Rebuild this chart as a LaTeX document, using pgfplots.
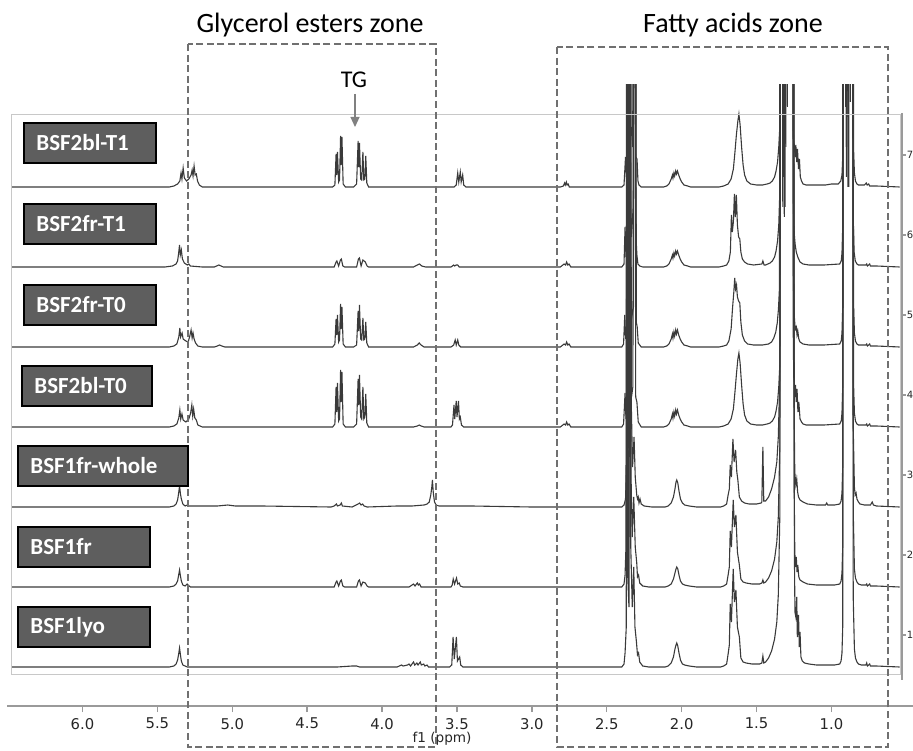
\documentclass[border=0pt]{standalone}
\usepackage{pgfplots}
\pgfplotsset{compat=1.18}
\usepackage{fontspec}
\setmainfont{Carlito}
\newfontfamily\tickfont{DejaVu Sans}
\usetikzlibrary{arrows.meta}

\definecolor{spec}{HTML}{3A3A3A}
\definecolor{zone}{HTML}{707070}
\definecolor{boxfill}{HTML}{5E5E5E}
\definecolor{framegray}{HTML}{C8C8C8}
\definecolor{axisgray}{HTML}{9A9A9A}

\begin{document}
\begin{tikzpicture}
\begin{axis}[
  x=74.9pt, y=0.5pt, x dir=reverse,
  xmin=0.4559, xmax=6.504, ymin=44, ymax=665,
  clip=true,
  axis x line*=bottom, axis y line=none,
  axis line style={axisgray, line width=1.2pt, -},
  xtick={1,1.5,2,2.5,3,3.5,4,4.5,5,5.5,6},
  tick align=outside, major tick length=3pt,
  tick style={axisgray, line width=0.7pt},
  xticklabel style={font=\tickfont\fontsize{7.4}{8}\selectfont, text=black!85, yshift=0.5pt},
  /pgf/number format/.cd, fixed, fixed zerofill, precision=1, assume math mode=true,
]
% heights above each baseline; each spectrum is lifted to its row with yshift (80 units = 40pt)
% very tall lines (900) run off the top of the display and are cut there

% BSF1lyo
\addplot[spec, line width=0.55pt, yshift=41.5pt] coordinates {
(6.47,0) (5.42,0) (5.39,1) (5.375,3) (5.365,7) (5.358,13) (5.352,19) (5.346,12) (5.34,6) (5.33,2) (5.315,1) (5.30,0)
(4.30,0) (4.20,1) (4.17,1) (4.15,0) (3.90,0) (3.87,2) (3.86,1) (3.83,2) (3.82,3) (3.81,1) (3.79,5) (3.782,2) (3.768,4) (3.76,2)
(3.745,5) (3.738,2) (3.722,3) (3.715,1) (3.70,2) (3.69,0)
(3.55,0) (3.535,2) (3.526,30) (3.518,8) (3.504,30) (3.497,6) (3.482,10) (3.475,2) (3.46,0)
(2.40,0) (2.385,3) (2.378,14) (2.37,40) (2.365,900) (2.36,90) (2.352,60) (2.346,900) (2.34,120) (2.33,60) (2.32,100)
(2.312,40) (2.302,25) (2.295,12) (2.288,14) (2.28,5) (2.26,1) (2.22,0)
(2.11,0) (2.09,1) (2.07,4) (2.055,10) (2.045,18) (2.038,22) (2.033,24) (2.026,21) (2.018,14) (2.008,7) (1.995,3) (1.98,2) (1.95,1) (1.90,0)
(1.74,0) (1.72,1) (1.70,3) (1.69,13) (1.682,22) (1.676,63) (1.668,45) (1.656,98) (1.648,65) (1.638,77) (1.628,40) (1.615,30)
(1.605,9) (1.59,5) (1.57,4) (1.53,3) (1.48,3) (1.465,4) (1.458,11) (1.452,4) (1.44,5) (1.42,9) (1.40,16) (1.38,28) (1.365,45)
(1.355,72) (1.345,150) (1.338,900) (1.32,900) (1.315,450) (1.31,900) (1.27,900) (1.252,900) (1.248,120) (1.244,55)
(1.238,50) (1.232,70) (1.228,30) (1.22,52) (1.215,20) (1.21,35) (1.204,10) (1.195,6) (1.18,4) (1.15,3) (1.10,2)
(0.98,2) (0.945,3) (0.936,6) (0.93,14) (0.925,40) (0.921,900) (0.895,900) (0.89,480) (0.885,900) (0.86,900) (0.855,70)
(0.847,18) (0.84,9) (0.83,5) (0.82,3) (0.80,2) (0.77,2) (0.765,4) (0.76,1) (0.745,3) (0.74,1) (0.70,1) (0.545,0)
};

% BSF1fr
\addplot[spec, line width=0.55pt, yshift=81.5pt] coordinates {
(6.47,0) (5.42,0) (5.39,1) (5.375,3) (5.365,6) (5.358,12) (5.352,17) (5.346,11) (5.34,6) (5.33,2) (5.315,1) (5.302,3) (5.295,2) (5.28,0)
(4.32,0) (4.307,5) (4.302,6) (4.29,1) (4.278,6) (4.272,7) (4.262,1) (4.25,0)
(4.17,0) (4.158,6) (4.151,7) (4.14,1) (4.128,5) (4.112,4) (4.10,1) (4.09,0)
(3.82,0) (3.80,2) (3.79,3) (3.78,1) (3.765,4) (3.758,2) (3.75,3) (3.74,0)
(3.54,0) (3.532,2) (3.525,8) (3.516,3) (3.503,9) (3.495,3) (3.485,4) (3.478,1) (3.46,0)
(2.40,0) (2.385,3) (2.378,12) (2.372,40) (2.366,900) (2.36,80) (2.352,50) (2.344,900) (2.338,110) (2.33,50) (2.32,90)
(2.31,40) (2.30,24) (2.295,10) (2.288,12) (2.28,4) (2.26,1) (2.22,0)
(2.11,0) (2.09,1) (2.07,3) (2.055,8) (2.045,14) (2.038,18) (2.033,20) (2.026,18) (2.018,12) (2.008,6) (1.995,3) (1.98,2) (1.95,1) (1.90,0)
(1.74,0) (1.72,1) (1.70,3) (1.69,12) (1.682,20) (1.676,56) (1.668,40) (1.656,87) (1.648,60) (1.638,72) (1.628,35) (1.615,22)
(1.605,8) (1.59,5) (1.57,4) (1.53,3) (1.48,3) (1.465,4) (1.458,7) (1.452,4) (1.44,5) (1.42,9) (1.40,16) (1.38,28) (1.365,45)
(1.355,70) (1.345,140) (1.338,900) (1.315,900) (1.31,380) (1.305,900) (1.27,900) (1.253,900) (1.249,100) (1.245,35)
(1.24,20) (1.235,30) (1.23,15) (1.225,22) (1.218,10) (1.21,7) (1.19,5) (1.16,3) (1.10,2)
(0.98,2) (0.945,3) (0.936,6) (0.93,14) (0.925,40) (0.922,900) (0.89,900) (0.885,400) (0.88,900) (0.858,900) (0.854,70)
(0.847,18) (0.84,9) (0.83,5) (0.82,3) (0.80,2) (0.77,2) (0.765,3) (0.76,1) (0.745,3) (0.74,1) (0.70,1) (0.545,0)
};

% BSF1fr-whole
\addplot[spec, line width=0.55pt, yshift=121.5pt] coordinates {
(6.47,0) (5.42,0) (5.39,1) (5.375,3) (5.365,7) (5.358,14) (5.352,21) (5.346,13) (5.34,8) (5.33,3) (5.315,1) (5.30,2) (5.29,1)
(5.20,1) (5.10,1) (5.03,2) (4.98,1) (4.80,1) (4.34,0)
(4.32,1) (4.305,3) (4.298,1) (4.28,2) (4.272,4) (4.265,1) (4.20,0) (4.16,3) (4.15,4) (4.14,2) (4.13,3) (4.12,1) (4.10,0)
(3.90,1) (3.80,1) (3.72,2) (3.70,3) (3.685,5) (3.675,12) (3.668,20) (3.664,27) (3.658,14) (3.65,5) (3.64,2) (3.62,1) (3.55,1) (3.40,1) (3.00,0)
(2.40,0) (2.385,2) (2.375,8) (2.368,40) (2.363,900) (2.357,70) (2.35,50) (2.342,900) (2.336,100) (2.328,40) (2.318,70)
(2.31,30) (2.30,12) (2.295,8) (2.29,10) (2.285,4) (2.278,8) (2.27,3) (2.25,1) (2.20,0)
(2.11,0) (2.09,1) (2.07,4) (2.055,10) (2.045,18) (2.038,25) (2.033,27) (2.026,24) (2.018,16) (2.008,8) (1.995,4) (1.98,2) (1.95,1) (1.90,0)
(1.74,0) (1.72,1) (1.70,3) (1.69,12) (1.682,18) (1.676,42) (1.668,30) (1.658,68) (1.65,45) (1.64,57) (1.632,35) (1.625,27)
(1.615,10) (1.60,6) (1.58,4) (1.55,3) (1.50,3) (1.47,4) (1.465,5) (1.458,60) (1.452,6) (1.44,6) (1.42,10) (1.40,18) (1.38,30)
(1.365,45) (1.355,70) (1.345,130) (1.338,900) (1.33,900) (1.325,300) (1.32,900) (1.27,900) (1.254,900) (1.25,100)
(1.245,35) (1.238,22) (1.232,28) (1.226,15) (1.22,10) (1.21,7) (1.19,5) (1.16,3) (1.10,2) (1.04,2) (1.032,4) (1.025,2)
(0.98,2) (0.945,3) (0.936,6) (0.93,14) (0.925,40) (0.921,900) (0.905,900) (0.90,330) (0.895,900) (0.86,900) (0.855,80)
(0.847,20) (0.842,12) (0.836,14) (0.83,8) (0.82,5) (0.81,3) (0.78,2) (0.74,2) (0.728,5) (0.72,2) (0.70,1) (0.545,0)
};

% BSF2bl-T0
\addplot[spec, line width=0.55pt, yshift=161.5pt] coordinates {
(6.47,0) (5.42,0) (5.39,1) (5.37,3) (5.357,9) (5.35,17) (5.344,8) (5.336,13) (5.328,7) (5.31,5) (5.29,8) (5.278,14) (5.27,22)
(5.264,11) (5.258,18) (5.25,9) (5.24,7) (5.23,2) (5.20,0)
(4.33,0) (4.315,3) (4.307,40) (4.303,15) (4.298,44) (4.29,6) (4.284,8) (4.277,57) (4.273,25) (4.268,55) (4.26,3) (4.245,0)
(4.19,0) (4.17,3) (4.16,48) (4.156,22) (4.151,52) (4.143,10) (4.136,8) (4.128,40) (4.122,8) (4.115,10) (4.109,33) (4.102,4) (4.09,0)
(3.79,0) (3.765,1) (3.752,2) (3.74,1) (3.72,0)
(3.54,0) (3.53,2) (3.52,22) (3.515,8) (3.505,26) (3.5,10) (3.49,26) (3.484,8) (3.478,10) (3.47,2) (3.455,0)
(2.81,0) (2.785,3) (2.775,2) (2.768,5) (2.76,2) (2.752,3) (2.74,0)
(2.40,0) (2.388,3) (2.378,34) (2.372,8) (2.362,30) (2.358,900) (2.353,40) (2.343,70) (2.335,30) (2.326,40) (2.313,900)
(2.307,30) (2.299,25) (2.29,5) (2.27,0)
(2.12,0) (2.10,1) (2.085,3) (2.07,8) (2.062,13) (2.058,9) (2.052,15) (2.047,11) (2.04,17) (2.035,13) (2.028,17) (2.02,12)
(2.01,8) (2.00,5) (1.985,2) (1.96,1) (1.94,0)
(1.75,0) (1.72,1) (1.69,3) (1.67,8) (1.655,18) (1.645,34) (1.635,52) (1.625,68) (1.618,74) (1.61,64) (1.60,42) (1.59,23)
(1.58,12) (1.565,6) (1.54,3) (1.50,2) (1.46,2)
(1.43,3) (1.41,4) (1.395,6) (1.38,10) (1.37,16) (1.36,25) (1.352,40) (1.345,62) (1.341,900) (1.325,900) (1.32,250) (1.315,900)
(1.27,900) (1.258,900) (1.255,90) (1.252,50) (1.248,45) (1.245,30) (1.24,42) (1.235,25) (1.23,38) (1.224,15) (1.218,25) (1.21,8)
(1.20,5) (1.19,3) (1.17,2) (1.05,2)
(0.945,3) (0.935,6) (0.93,14) (0.925,40) (0.922,900) (0.905,900) (0.90,280) (0.895,900) (0.858,900) (0.853,45) (0.847,14)
(0.84,6) (0.83,3) (0.82,2) (0.77,2) (0.765,3) (0.76,1) (0.745,3) (0.74,1) (0.70,1) (0.545,0)
};

% BSF2fr-T0
\addplot[spec, line width=0.55pt, yshift=201.5pt] coordinates {
(6.47,0) (5.42,0) (5.39,1) (5.37,3) (5.357,10) (5.35,19) (5.345,10) (5.335,14) (5.328,8) (5.31,6) (5.295,5) (5.285,10)
(5.275,17) (5.268,9) (5.262,14) (5.255,8) (5.245,4) (5.23,1) (5.20,0) (5.12,0) (5.10,1) (5.085,2) (5.07,1) (5.05,0)
(4.33,0) (4.315,3) (4.307,28) (4.303,12) (4.298,32) (4.29,5) (4.284,7) (4.277,43) (4.273,18) (4.268,40) (4.26,3) (4.245,0)
(4.19,0) (4.17,2) (4.16,36) (4.156,16) (4.151,42) (4.143,8) (4.136,7) (4.128,29) (4.122,7) (4.115,8) (4.109,25) (4.102,4) (4.09,0)
(3.79,0) (3.765,2) (3.752,4) (3.74,2) (3.72,0)
(3.54,0) (3.522,2) (3.512,7) (3.505,2) (3.495,7) (3.488,2) (3.475,0)
(2.81,0) (2.785,3) (2.775,2) (2.768,5) (2.76,2) (2.752,3) (2.74,0)
(2.40,0) (2.388,3) (2.38,32) (2.374,8) (2.36,30) (2.356,900) (2.351,40) (2.342,60) (2.333,30) (2.322,40) (2.309,900)
(2.303,25) (2.297,20) (2.29,4) (2.27,0)
(2.12,0) (2.10,1) (2.085,3) (2.07,8) (2.062,13) (2.058,9) (2.052,15) (2.047,11) (2.04,17) (2.035,13) (2.028,17) (2.02,12)
(2.01,8) (2.00,5) (1.985,2) (1.96,1) (1.94,0)
(1.75,0) (1.72,1) (1.70,2) (1.685,6) (1.67,18) (1.66,40) (1.652,55) (1.646,69) (1.64,58) (1.634,62) (1.628,50) (1.62,46)
(1.612,44) (1.605,25) (1.595,12) (1.58,6) (1.56,3) (1.52,2) (1.46,2)
(1.42,3) (1.40,5) (1.385,9) (1.372,15) (1.362,24) (1.354,38) (1.347,60) (1.343,900) (1.32,900) (1.315,180) (1.31,900)
(1.28,900) (1.26,900) (1.256,80) (1.252,45) (1.248,30) (1.244,22) (1.24,18) (1.235,20) (1.23,12) (1.225,16) (1.218,8)
(1.21,5) (1.19,3) (1.15,2) (1.05,2)
(0.945,3) (0.935,6) (0.93,14) (0.925,40) (0.921,900) (0.905,900) (0.90,200) (0.895,900) (0.858,900) (0.853,45) (0.847,14)
(0.84,6) (0.83,3) (0.82,2) (0.77,2) (0.765,3) (0.76,1) (0.745,3) (0.74,1) (0.70,1) (0.545,0)
};

% BSF2fr-T1
\addplot[spec, line width=0.55pt, yshift=241.5pt] coordinates {
(6.47,0) (5.45,0) (5.40,1) (5.375,3) (5.365,6) (5.358,14) (5.352,22) (5.347,12) (5.34,17) (5.333,8) (5.32,4) (5.30,2) (5.29,3)
(5.28,1) (5.20,0) (5.12,0) (5.09,2) (5.06,0)
(4.32,0) (4.307,5) (4.302,6) (4.29,1) (4.278,7) (4.272,8) (4.262,1) (4.25,0)
(4.17,0) (4.158,8) (4.151,9) (4.14,1) (4.128,7) (4.112,5) (4.10,1) (4.09,0)
(3.79,0) (3.765,2) (3.75,3) (3.735,1) (3.71,0)
(3.54,0) (3.522,2) (3.515,1) (3.505,2) (3.495,2) (3.485,0)
(2.81,0) (2.785,3) (2.775,2) (2.768,5) (2.76,2) (2.752,3) (2.74,0)
(2.40,0) (2.385,3) (2.378,40) (2.372,10) (2.364,30) (2.36,900) (2.355,50) (2.345,80) (2.335,30) (2.324,60) (2.311,900)
(2.305,30) (2.299,12) (2.292,3) (2.28,1) (2.26,0)
(2.12,0) (2.10,1) (2.085,3) (2.07,8) (2.062,12) (2.058,9) (2.052,14) (2.047,11) (2.04,16) (2.035,13) (2.028,16) (2.02,12)
(2.01,8) (2.00,5) (1.985,2) (1.96,1) (1.94,0)
(1.75,0) (1.72,1) (1.70,2) (1.685,6) (1.675,15) (1.668,52) (1.662,35) (1.655,45) (1.648,73) (1.642,50) (1.635,72) (1.628,42)
(1.62,30) (1.612,28) (1.605,15) (1.595,8) (1.58,5) (1.56,3) (1.52,2) (1.465,3) (1.458,6) (1.45,2) (1.44,2)
(1.41,4) (1.395,6) (1.38,10) (1.37,16) (1.36,26) (1.352,42) (1.346,70) (1.342,900) (1.31,900) (1.305,120) (1.30,900)
(1.27,900) (1.26,900) (1.256,70) (1.252,45) (1.247,30) (1.242,22) (1.235,15) (1.225,10) (1.21,5) (1.19,3) (1.15,2) (1.05,2)
(0.945,3) (0.935,6) (0.93,14) (0.925,40) (0.921,900) (0.895,900) (0.89,150) (0.885,900) (0.859,900) (0.855,50) (0.849,15)
(0.841,6) (0.83,3) (0.82,2) (0.77,2) (0.765,3) (0.76,1) (0.745,3) (0.74,1) (0.70,1) (0.545,0)
};

% BSF2bl-T1
\addplot[spec, line width=0.55pt, yshift=281.5pt] coordinates {
(6.47,0) (5.42,0) (5.39,1) (5.365,3) (5.35,6) (5.342,14) (5.336,8) (5.328,19) (5.32,9) (5.305,6) (5.29,8) (5.275,12)
(5.268,17) (5.262,11) (5.255,21) (5.248,12) (5.24,13) (5.232,6) (5.22,2) (5.20,0)
(4.33,0) (4.315,2) (4.307,33) (4.303,12) (4.298,35) (4.29,5) (4.284,7) (4.277,51) (4.273,22) (4.268,50) (4.26,3) (4.245,0)
(4.19,0) (4.17,3) (4.16,46) (4.156,20) (4.151,44) (4.143,8) (4.136,7) (4.128,35) (4.122,7) (4.115,8) (4.109,31) (4.102,4) (4.09,0)
(3.52,0) (3.505,2) (3.495,14) (3.488,5) (3.478,15) (3.472,5) (3.462,12) (3.455,2) (3.44,0)
(2.81,0) (2.79,1) (2.782,4) (2.777,2) (2.77,5) (2.765,2) (2.758,3) (2.75,0)
(2.40,0) (2.385,2) (2.375,30) (2.368,8) (2.361,30) (2.357,900) (2.353,40) (2.343,50) (2.335,60) (2.327,40) (2.312,900)
(2.306,30) (2.298,28) (2.292,6) (2.285,2) (2.27,0)
(2.12,0) (2.10,1) (2.085,3) (2.07,8) (2.062,12) (2.058,9) (2.052,14) (2.047,11) (2.04,16) (2.035,13) (2.028,16) (2.02,12)
(2.01,8) (2.00,5) (1.985,2) (1.96,1) (1.94,0)
(1.75,0) (1.72,1) (1.69,3) (1.67,8) (1.655,18) (1.645,34) (1.635,52) (1.625,66) (1.618,73) (1.61,62) (1.60,40) (1.59,22)
(1.58,12) (1.565,6) (1.54,3) (1.50,2) (1.46,2) (1.43,3)
(1.41,4) (1.395,6) (1.38,10) (1.37,16) (1.36,25) (1.352,40) (1.345,60) (1.34,900) (1.33,900) (1.325,70) (1.32,900)
(1.30,900) (1.295,80) (1.29,900) (1.26,900) (1.256,60) (1.252,45) (1.248,42) (1.243,30) (1.238,42) (1.232,25) (1.227,38)
(1.22,18) (1.214,28) (1.208,10) (1.20,6) (1.19,3) (1.17,2) (1.10,2) (1.04,2) (1.00,3)
(0.955,3) (0.938,6) (0.93,12) (0.925,30) (0.921,900) (0.91,900) (0.905,80) (0.90,900) (0.88,900) (0.875,85) (0.87,900)
(0.857,900) (0.853,40) (0.847,14) (0.84,6) (0.83,3) (0.82,2) (0.78,2) (0.768,4) (0.762,2) (0.752,3) (0.745,1) (0.70,1) (0.545,0)
};

\coordinate (O) at (axis cs:6.5507,750);
\end{axis}

% decorations in pixel units of the reference (origin top-left)
\begin{scope}[shift={(O)}, x=0.5pt, y=-0.5pt]
  \draw[framegray, line width=0.5pt] (11,115) rectangle (900,674);
  \draw[axisgray, line width=0.8pt] (902,113) -- (902,680);
  \foreach \yy/\lab in {155/7,235/6,315/5,395/4,475/3,555/2,635/1} {
    \draw[axisgray, line width=0.7pt] (902,\yy) -- (906,\yy);
    \node[anchor=west, inner sep=0pt, font=\tickfont\fontsize{5}{6}\selectfont, text=black!85] at (906.5,\yy) {\lab};
  }
  \node[font=\tickfont\fontsize{6.8}{7}\selectfont, text=black!85] at (442,739) {f1 (ppm)};

  % zones
  \draw[zone, line width=1.4pt, dash pattern=on 3.5pt off 1.8pt] (188,44) rectangle (436,747);
  \draw[zone, line width=1.4pt, dash pattern=on 3.5pt off 1.8pt] (557,47) rectangle (888,747);
  \node[anchor=base, font=\fontsize{14}{16}\selectfont] at (310,33) {Glycerol esters zone};
  \node[anchor=base, font=\fontsize{14}{16}\selectfont] at (733,33) {Fatty acids zone};
  \node[anchor=base, font=\fontsize{12}{14}\selectfont] at (354,88) {TG};
  \draw[gray, line width=0.6pt, -{Triangle[width=4.5pt,length=5pt]}] (355,94) -- (355,127);

  % sample labels
  \foreach \xa/\xb/\ya/\lab in {24/156/123/BSF2bl-T1, 24/156/204/BSF2fr-T1, 24/156/285/BSF2fr-T0, 22/152/366/BSF2bl-T0,
                                18/188/446/BSF1fr-whole, 18/150/527/BSF1fr, 18/150/607/BSF1lyo} {
    \draw[black, fill=boxfill, line width=0.6pt] (\xa,\ya) rectangle (\xb,\ya+40);
    \node[anchor=west, inner sep=0pt, text=white, font=\bfseries\fontsize{11.5}{13}\selectfont] at (\xa+12,\ya+20) {\lab};
  }
\end{scope}

\pgfresetboundingbox
\path[use as bounding box] (O) rectangle ++(456.5pt,-375pt);
\end{tikzpicture}
\end{document}
